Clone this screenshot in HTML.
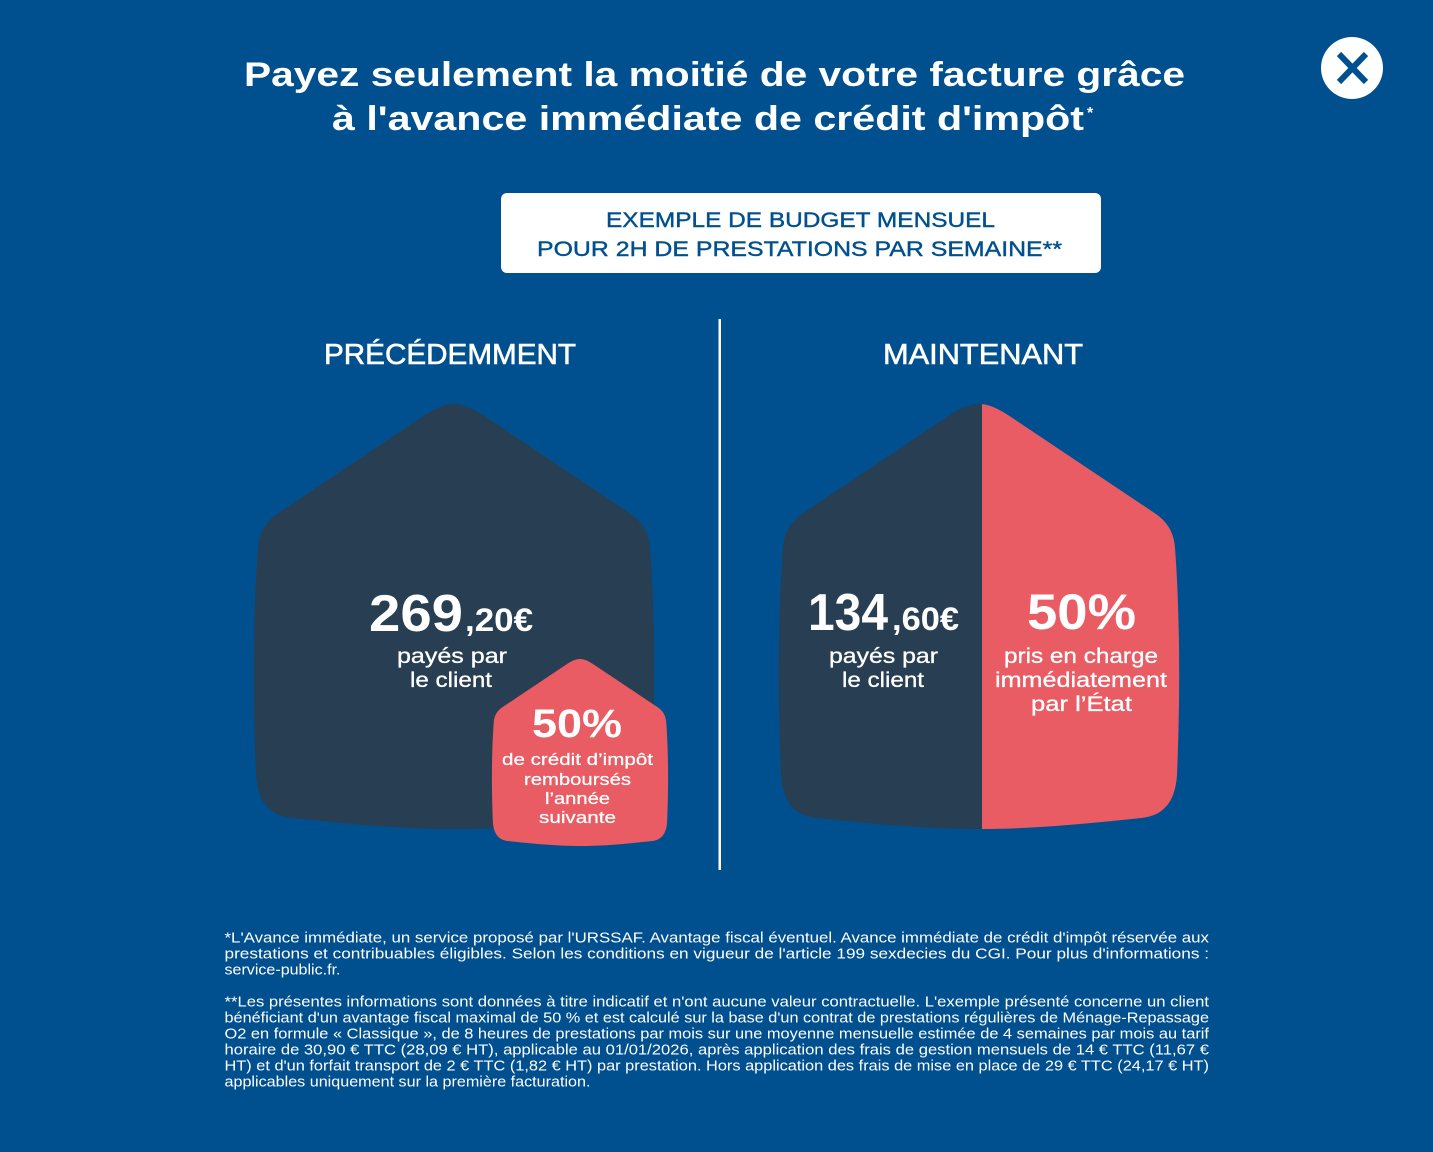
<!DOCTYPE html>
<html>
<head>
<meta charset="utf-8">
<style>
html,body{margin:0;padding:0;background:#00508f;}
svg{display:block;}
text{font-family:"Liberation Sans",Arial,sans-serif;}
</style>
</head>
<body>
<svg width="1433" height="1152" viewBox="0 0 1433 1152" xmlns="http://www.w3.org/2000/svg">
  <rect x="0" y="0" width="1433" height="1152" fill="#00508f"/>

  <!-- Title -->
  <text x="244" y="86" font-size="34" font-weight="bold" fill="#ffffff" textLength="941" lengthAdjust="spacingAndGlyphs">Payez seulement la moitié de votre facture grâce</text>
  <text x="332" y="130" font-size="34" font-weight="bold" fill="#ffffff" textLength="752" lengthAdjust="spacingAndGlyphs">à l'avance immédiate de crédit d'impôt</text>
  <text x="1087" y="118" font-size="16" font-weight="bold" fill="#ffffff">*</text>

  <!-- Close button -->
  <circle cx="1352" cy="68" r="31" fill="#ffffff"/>
  <line x1="1339" y1="54" x2="1366" y2="82" stroke="#00508f" stroke-width="6"/>
  <line x1="1366" y1="54" x2="1339" y2="82" stroke="#00508f" stroke-width="6"/>

  <!-- Box -->
  <rect x="501" y="193" width="600" height="80" rx="6" ry="6" fill="#ffffff"/>
  <text x="606" y="227" font-size="21" fill="#00508f" stroke="#00508f" stroke-width="0.4" textLength="389" lengthAdjust="spacingAndGlyphs">EXEMPLE DE BUDGET MENSUEL</text>
  <text x="537" y="256" font-size="21" fill="#00508f" stroke="#00508f" stroke-width="0.4" textLength="525" lengthAdjust="spacingAndGlyphs">POUR 2H DE PRESTATIONS PAR SEMAINE**</text>

  <!-- Headings -->
  <text x="324" y="364" font-size="29" fill="#ffffff" stroke="#ffffff" stroke-width="0.6" textLength="252" lengthAdjust="spacingAndGlyphs">PRÉCÉDEMMENT</text>
  <text x="883" y="364" font-size="29" fill="#ffffff" stroke="#ffffff" stroke-width="0.6" textLength="200" lengthAdjust="spacingAndGlyphs">MAINTENANT</text>

  <!-- Divider -->
  <rect x="718.5" y="319" width="2.5" height="551" fill="#ffffff"/>

  <!-- Left house -->
  <path transform="translate(454,404)" fill="#283e52" d="M 0 0 C -10 0 -20 5 -32 13 L -174 108 C -188 117 -195 128 -196 144 C -200 196 -202 276 -198 371 C -196 401 -182 412 -162 414 C -104 420 -54 425 0 425 C 54 425 104 420 162 414 C 182 412 196 401 198 371 C 202 276 200 196 196 144 C 195 128 188 117 174 108 L 32 13 C 20 5 10 0 0 0 Z"/>

  <text x="369" y="631" font-size="52" font-weight="bold" fill="#ffffff" textLength="94" lengthAdjust="spacingAndGlyphs">269</text>
  <text x="465" y="631" font-size="32" font-weight="bold" fill="#ffffff" textLength="68" lengthAdjust="spacingAndGlyphs">,20€</text>
  <text x="397" y="663" font-size="21" fill="#ffffff" stroke="#ffffff" stroke-width="0.3" textLength="110" lengthAdjust="spacingAndGlyphs">payés par</text>
  <text x="410" y="687" font-size="21" fill="#ffffff" stroke="#ffffff" stroke-width="0.3" textLength="82" lengthAdjust="spacingAndGlyphs">le client</text>

  <!-- Small red house -->
  <path transform="translate(580,659) scale(0.44)" fill="#e95c63" d="M 0 0 C -10 0 -20 5 -32 13 L -174 108 C -188 117 -195 128 -196 144 C -200 196 -202 276 -198 371 C -196 401 -182 412 -162 414 C -104 420 -54 425 0 425 C 54 425 104 420 162 414 C 182 412 196 401 198 371 C 202 276 200 196 196 144 C 195 128 188 117 174 108 L 32 13 C 20 5 10 0 0 0 Z"/>
  <text x="532" y="737" font-size="40" font-weight="bold" fill="#ffffff" textLength="90" lengthAdjust="spacingAndGlyphs">50%</text>
  <text x="502" y="765" font-size="17" fill="#ffffff" stroke="#ffffff" stroke-width="0.25" textLength="151" lengthAdjust="spacingAndGlyphs">de crédit d’impôt</text>
  <text x="524" y="785" font-size="17" fill="#ffffff" stroke="#ffffff" stroke-width="0.25" textLength="107" lengthAdjust="spacingAndGlyphs">remboursés</text>
  <text x="545" y="804" font-size="17" fill="#ffffff" stroke="#ffffff" stroke-width="0.25" textLength="65" lengthAdjust="spacingAndGlyphs">l’année</text>
  <text x="539" y="823" font-size="17" fill="#ffffff" stroke="#ffffff" stroke-width="0.25" textLength="77" lengthAdjust="spacingAndGlyphs">suivante</text>

  <!-- Right house -->
  <clipPath id="cl"><rect x="0" y="0" width="982" height="1152"/></clipPath>
  <clipPath id="cr"><rect x="982" y="0" width="451" height="1152"/></clipPath>
  <g clip-path="url(#cl)">
    <path transform="translate(979,404)" fill="#283e52" d="M 0 0 C -10 0 -20 5 -32 13 L -174 108 C -188 117 -195 128 -196 144 C -200 196 -202 276 -198 371 C -196 401 -182 412 -162 414 C -104 420 -54 425 0 425 C 54 425 104 420 162 414 C 182 412 196 401 198 371 C 202 276 200 196 196 144 C 195 128 188 117 174 108 L 32 13 C 20 5 10 0 0 0 Z"/>
  </g>
  <g clip-path="url(#cr)">
    <path transform="translate(979,404)" fill="#e95c63" d="M 0 0 C -10 0 -20 5 -32 13 L -174 108 C -188 117 -195 128 -196 144 C -200 196 -202 276 -198 371 C -196 401 -182 412 -162 414 C -104 420 -54 425 0 425 C 54 425 104 420 162 414 C 182 412 196 401 198 371 C 202 276 200 196 196 144 C 195 128 188 117 174 108 L 32 13 C 20 5 10 0 0 0 Z"/>
  </g>

  <text x="808" y="630" font-size="52" font-weight="bold" fill="#ffffff" textLength="80" lengthAdjust="spacingAndGlyphs">134</text>
  <text x="892" y="630" font-size="32" font-weight="bold" fill="#ffffff" textLength="67" lengthAdjust="spacingAndGlyphs">,60€</text>
  <text x="829" y="663" font-size="21" fill="#ffffff" stroke="#ffffff" stroke-width="0.3" textLength="109" lengthAdjust="spacingAndGlyphs">payés par</text>
  <text x="842" y="687" font-size="21" fill="#ffffff" stroke="#ffffff" stroke-width="0.3" textLength="82" lengthAdjust="spacingAndGlyphs">le client</text>

  <text x="1027" y="629" font-size="50" font-weight="bold" fill="#ffffff" textLength="109" lengthAdjust="spacingAndGlyphs">50%</text>
  <text x="1004" y="663" font-size="21" fill="#ffffff" stroke="#ffffff" stroke-width="0.3" textLength="154" lengthAdjust="spacingAndGlyphs">pris en charge</text>
  <text x="995" y="687" font-size="21" fill="#ffffff" stroke="#ffffff" stroke-width="0.3" textLength="172" lengthAdjust="spacingAndGlyphs">immédiatement</text>
  <text x="1031" y="711" font-size="21" fill="#ffffff" stroke="#ffffff" stroke-width="0.3" textLength="101" lengthAdjust="spacingAndGlyphs">par l’État</text>

  <!-- Footnotes -->
  <g font-size="14.5" fill="#ffffff">
    <text x="224.5" y="942.5" textLength="984.5" lengthAdjust="spacingAndGlyphs">*L'Avance immédiate, un service proposé par l'URSSAF. Avantage fiscal éventuel. Avance immédiate de crédit d'impôt réservée aux</text>
    <text x="224.5" y="958.5" textLength="984.5" lengthAdjust="spacingAndGlyphs">prestations et contribuables éligibles. Selon les conditions en vigueur de l'article 199 sexdecies du CGI. Pour plus d'informations :</text>
    <text x="224.5" y="974.5" textLength="116" lengthAdjust="spacingAndGlyphs">service-public.fr.</text>
    <text x="224.5" y="1006.5" textLength="984.5" lengthAdjust="spacingAndGlyphs">**Les présentes informations sont données à titre indicatif et n'ont aucune valeur contractuelle. L'exemple présenté concerne un client</text>
    <text x="224.5" y="1022.5" textLength="984.5" lengthAdjust="spacingAndGlyphs">bénéficiant d'un avantage fiscal maximal de 50 % et est calculé sur la base d'un contrat de prestations régulières de Ménage-Repassage</text>
    <text x="224.5" y="1038.5" textLength="984.5" lengthAdjust="spacingAndGlyphs">O2 en formule « Classique », de 8 heures de prestations par mois sur une moyenne mensuelle estimée de 4 semaines par mois au tarif</text>
    <text x="224.5" y="1054.5" textLength="984.5" lengthAdjust="spacingAndGlyphs">horaire de 30,90 € TTC (28,09 € HT), applicable au 01/01/2026, après application des frais de gestion mensuels de 14 € TTC (11,67 €</text>
    <text x="224.5" y="1070.5" textLength="984.5" lengthAdjust="spacingAndGlyphs">HT) et d'un forfait transport de 2 € TTC (1,82 € HT) par prestation. Hors application des frais de mise en place de 29 € TTC (24,17 € HT)</text>
    <text x="224.5" y="1086.5" textLength="366" lengthAdjust="spacingAndGlyphs">applicables uniquement sur la première facturation.</text>
  </g>
</svg>
</body>
</html>
